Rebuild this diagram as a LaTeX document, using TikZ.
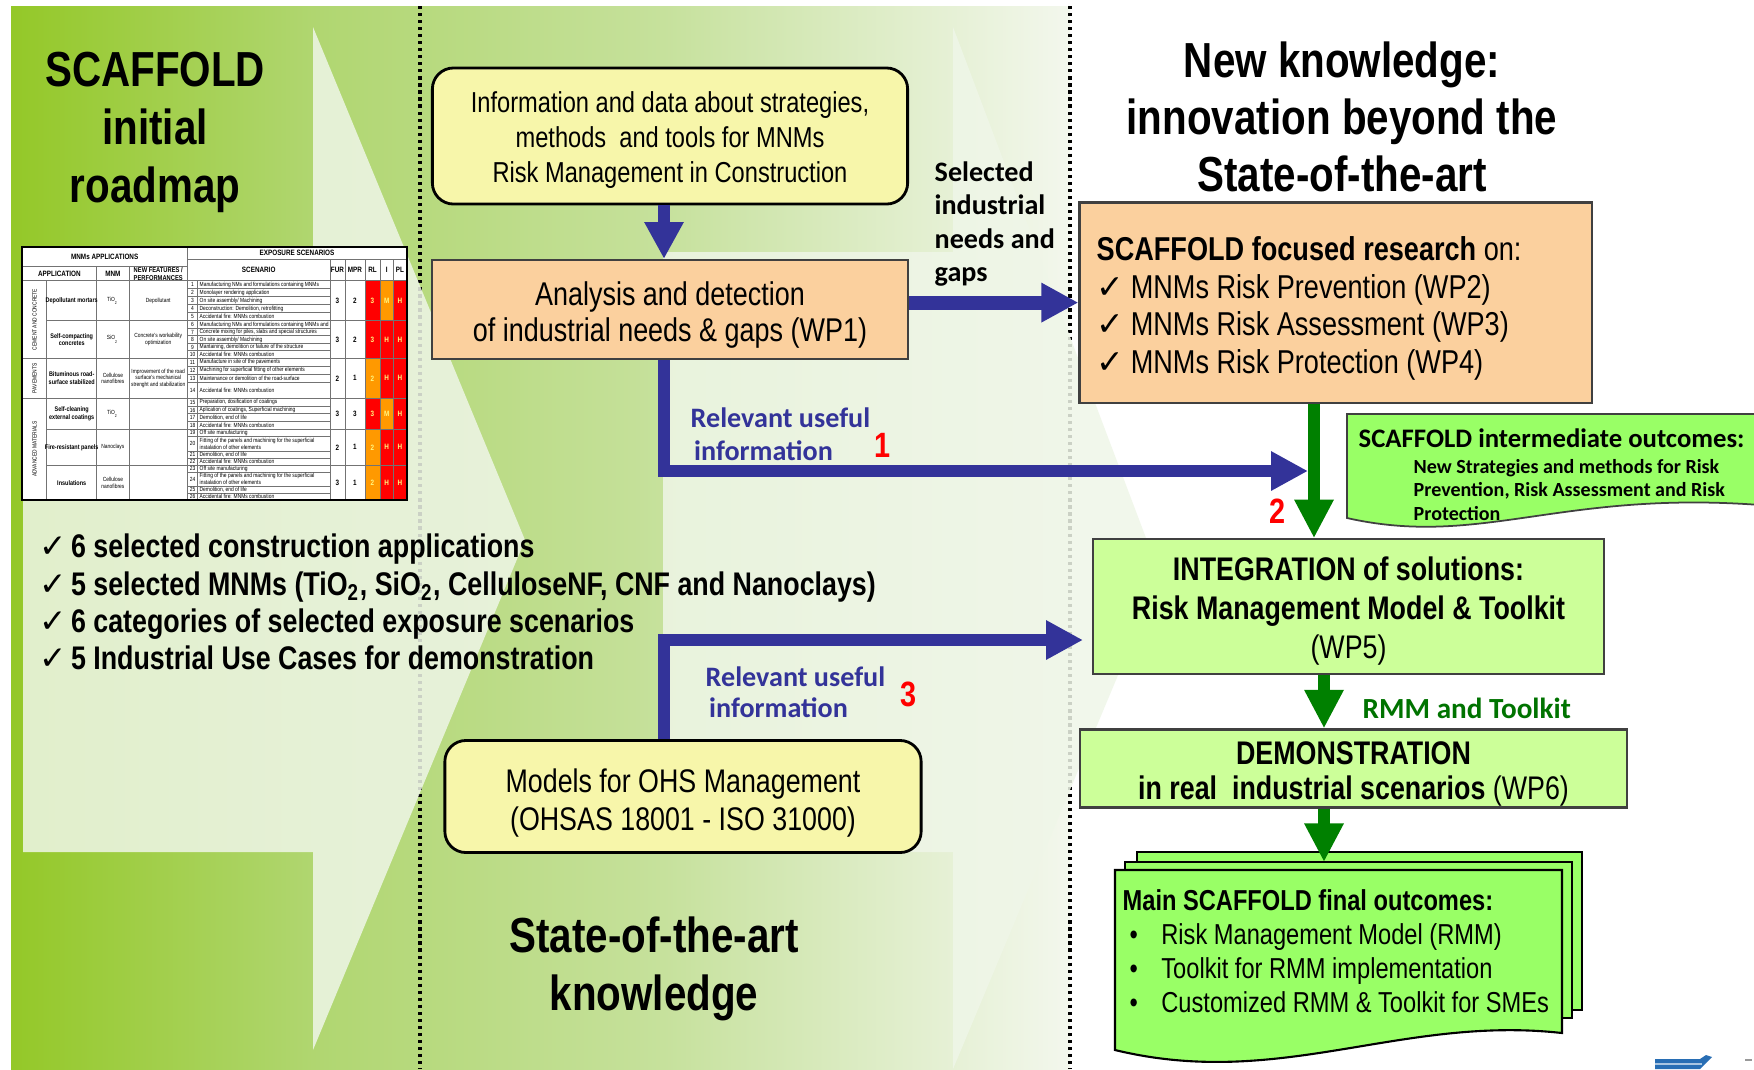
\documentclass[tikz,border=0pt]{standalone}
\usepackage{fontspec}
\setmainfont{Liberation Sans}[FakeStretch=0.82]
\newfontfamily\calib{Carlito}
\newfontfamily\symb{DejaVu Sans}
\usetikzlibrary{arrows.meta}

\definecolor{leftgreen}{RGB}{148,200,40}
\definecolor{midgreen}{RGB}{176,214,112}
\definecolor{palemid}{RGB}{198,225,156}
\definecolor{paleedge}{RGB}{243,247,237}
\definecolor{chevlight}{RGB}{239,246,232}
\definecolor{infoyellow}{RGB}{247,246,170}
\definecolor{wporange}{RGB}{251,208,158}
\definecolor{palegreen}{RGB}{204,255,153}
\definecolor{brightgreen}{RGB}{153,255,102}
\definecolor{arrowblue}{RGB}{51,51,153}
\definecolor{arrowgreen}{RGB}{0,128,0}
\definecolor{tabred}{RGB}{255,0,0}
\definecolor{taborange}{RGB}{255,153,0}
\definecolor{logoblue}{RGB}{40,110,180}

\newcommand{\fs}[2]{\fontsize{#1}{#2}\selectfont}
\newcommand{\okmark}[1][8.9pt]{\makebox[#1][l]{\symb ✓}}

\tikzstyle{headline} = [font=\bfseries\fs{14}{16.5}, align=center, inner sep=0pt]
\tikzstyle{roundbox} = [rectangle, rounded corners=6pt, draw=black, line width=0.8pt, fill=infoyellow]
\tikzstyle{wpbox} = [rectangle, draw=black!75, line width=0.6pt, fill=wporange]
\tikzstyle{outbox} = [rectangle, draw=black!75, line width=0.6pt, fill=palegreen]
\tikzstyle{boxtext} = [align=center, inner sep=0pt]
\tikzstyle{sheet} = [fill=brightgreen, draw=black, line width=0.6pt]
\tikzstyle{bluearrow} = [draw=arrowblue, line width=3.3pt, -{Triangle[length=10.5pt, width=10.5pt]}]
\tikzstyle{greenarrow} = [draw=arrowgreen, line width=3.6pt, -{Triangle[length=11pt, width=10.5pt]}]
\tikzstyle{note} = [font=\calib\bfseries\fs{8}{9.5}, align=left, inner sep=0pt, anchor=west]
\tikzstyle{rednum} = [font=\bfseries\fs{10}{10}, text=red, inner sep=0pt]
\tikzstyle{divider} = [line width=0.9pt, dash pattern=on 0.9pt off 1.1pt]
\tikzstyle{chevron} = [fill=chevlight, fill opacity=0.85]
\tikzstyle{tabline} = [draw=black!55, line width=0.2pt]
\tikzstyle{tabhead} = [font=\bfseries\fs{2.2}{2.5}, inner sep=0pt, align=center]
\tikzstyle{tabtxt} = [font=\fs{1.7}{1.9}, inner sep=0pt, align=center]
\tikzstyle{tabcell} = [font=\bfseries\fs{2.2}{2.4}, inner sep=0pt, text=yellow!50]

\begin{document}
\begin{tikzpicture}[x=0.01cm, y=-0.01cm]
    \useasboundingbox (0,0) rectangle (1754,1069);
    \fill [white] (0,0) rectangle (1754,1069);
    \fill [left color=leftgreen, right color=midgreen] (11,6) rectangle (312.5,1069);
    \fill [left color=midgreen, right color=palemid] (312,6) rectangle (663.5,1069);
    \fill [left color=palemid, right color=paleedge] (663,6) rectangle (1070,1069);
    \draw [divider] (420,6) -- (420,1069);
    \draw [divider] (1070,6) -- (1070,1069);
    \fill [chevron] (23,252) -- (313,252) -- (313,27) -- (525,540) -- (313,1050) -- (313,852) -- (23,852) -- cycle;
    \fill [chevron] (663,252) -- (953,252) -- (953,27) -- (1160,575) -- (953,1069) -- (953,852) -- (663,852) -- cycle;

    \node [headline] at (155,132) (roadmap) {SCAFFOLD\\initial\\roadmap};
    \node [headline, font=\bfseries\fs{14}{16.25}] at (1342,117) (newknow) {New knowledge:\\innovation beyond the\\State-of-the-art};
    \node [headline] at (654,968.6) (stateart) {State-of-the-art\\knowledge};

    \fill [white] (22,247) rectangle (407,500);
    \foreach \ya/\yb/\ca/\cb/\cc in {280.7/320.7/tabred/taborange/tabred, 320.7/358.3/tabred/tabred/tabred, 358.3/398.3/taborange/tabred/tabred, 398.3/429.3/tabred/taborange/tabred, 429.3/465.3/taborange/tabred/tabred, 465.3/500/taborange/tabred/tabred}{
        \fill [\ca] (365,\ya) rectangle (380,\yb);
        \fill [\cb] (380,\ya) rectangle (393.3,\yb);
        \fill [\cc] (393.3,\ya) rectangle (406.7,\yb);
    }
    \draw [tabline] (22,266.7) -- (187.3,266.7);
    \draw [tabline] (187.3,259) -- (406.7,259);
    \foreach \y in {280.7,358.3,398.3}
        \draw [tabline] (22,\y) -- (406.7,\y);
    \foreach \y in {320.7,429.3,465.3}
        \draw [tabline] (46.7,\y) -- (406.7,\y);
    \draw [tabline] (46.7,280.7) -- (46.7,500);
    \foreach \x in {96.7,129}
        \draw [tabline] (\x,266.7) -- (\x,500);
    \draw [tabline] (187.3,247.3) -- (187.3,500);
    \draw [tabline] (197.7,280.7) -- (197.7,500);
    \foreach \x in {330,345,365,380,393.3}
        \draw [tabline] (\x,259) -- (\x,500);

    \node [tabhead] at (104.7,257) (thapp) {MNMs APPLICATIONS};
    \node [tabhead] at (297,253.2) (thexp) {EXPOSURE SCENARIOS};
    \node [tabhead] at (59.4,273.7) (thcol1) {APPLICATION};
    \node [tabhead] at (112.9,273.7) (thcol2) {MNM};
    \node [tabhead, font=\bfseries\fs{2}{2.3}] at (158.2,273.7) (thcol3) {NEW FEATURES /\\PERFORMANCES};
    \node [tabhead] at (258.7,269.9) (thcol4) {SCENARIO};
    \node [tabhead] at (337.5,269.9) (thcol5) {FUR};
    \node [tabhead] at (355,269.9) (thcol6) {MPR};
    \node [tabhead] at (372.5,269.9) (thcol7) {RL};
    \node [tabhead] at (386.7,269.9) (thcol8) {I};
    \node [tabhead] at (400,269.9) (thcol9) {PL};
    \node [tabtxt, rotate=90] at (34.5,319.5) (grp1) {CEMENT AND CONCRETE};
    \node [tabtxt, rotate=90] at (34.5,378.3) (grp2) {PAVEMENTS};
    \node [tabtxt, rotate=90] at (34.5,449) (grp3) {ADVANCED MATERIALS};

    \foreach \ya/\yb/\app/\mnm/\fur/\mpr/\rl/\ii/\pl [count=\k] in {
        280.7/320.7/{Depollutant mortars}/{TiO\textsubscript{2}}/3/2/3/M/H,
        320.7/358.3/{Self-compacting\\concretes}/{SiO\textsubscript{2}}/3/2/3/H/H,
        358.3/398.3/{Bituminous road-\\surface stabilized}/{Cellulose\\nanofibres}/2/1/2/H/H,
        398.3/429.3/{Self-cleaning\\external coatings}/{TiO\textsubscript{2}}/3/3/3/M/H,
        429.3/465.3/{Fire-resistant panels}/{Nanoclays}/2/1/2/H/H,
        465.3/500/{Insulations}/{Cellulose\\nanofibres}/3/1/2/H/H}{
        \node [tabhead, font=\bfseries\fs{1.9}{2.2}] at (71.7,{(\ya+\yb)/2}) (app\k) {\app};
        \node [tabtxt] at (112.9,{(\ya+\yb)/2}) (mnm\k) {\mnm};
        \node [tabhead] at (337.5,{(\ya+\yb)/2}) (fur\k) {\fur};
        \node [tabhead] at (355,{(\ya+\yb)/2}) (mpr\k) {\mpr};
        \node [tabcell] at (372.5,{(\ya+\yb)/2}) (rl\k) {\rl};
        \node [tabcell] at (386.7,{(\ya+\yb)/2}) (ii\k) {\ii};
        \node [tabcell] at (400,{(\ya+\yb)/2}) (pl\k) {\pl};
    }
    \foreach \y/\feat [count=\k] in {300.7/{Depollutant}, 339.5/{Concrete's workability\\optimization}, 378.3/{Improvement of the road\\surface's mechanical\\strenght and stabilization}}
        \node [tabtxt] at (158.2,\y) (feat\k) {\feat};
    \foreach \n/\yt/\yb/\txt in {
        1/280.7/288.7/{Manufacturing NMs and formulations containing MNMs},
        2/288.7/296.7/{Monolayer rendering application},
        3/296.7/304.7/{On site assembly/ Machining},
        4/304.7/312.7/{Deconstruction: Demolition, retrofitting},
        5/312.7/320.7/{Accidental fire: MNMs combustion},
        6/320.7/328.2/{Manufacturing NMs and formulations containing MNMs and},
        7/328.2/335.7/{Concrete mixing for piles, slabs and special structures},
        8/335.7/343.3/{On site assembly/ Machining},
        9/343.3/350.8/{Mantaining, demolition or failure of the structure},
        10/350.8/358.3/{Accidental fire: MNMs combustion},
        11/358.3/366.3/{Manufacture in site of the pavements},
        12/366.3/374.3/{Machining for superficial fitting of other elements},
        13/374.3/382.3/{Maintenance or demolition of the road-surface},
        14/382.3/398.3/{Accidental fire: MNMs combustion},
        15/398.3/406.1/{Preparation, dosification of coatings},
        16/406.1/413.8/{Aplication of coatings, Superficial machining},
        17/413.8/421.6/{Demolition, end of life},
        18/421.6/429.3/{Accidental fire: MNMs combustion},
        19/429.3/436.5/{Off site manufacturing},
        20/436.5/450.9/{Fitting of the panels and machining for the superficial\\instalation of other elements},
        21/450.9/458.1/{Demolition, end of life},
        22/458.1/465.3/{Accidental fire: MNMs combustion},
        23/465.3/472.2/{Off site manufacturing},
        24/472.2/486.1/{Fitting of the panels and machining for the superficial\\instalation of other elements},
        25/486.1/493.1/{Demolition, end of life},
        26/493.1/500/{Accidental fire: MNMs combustion}}{
        \draw [tabline] (187.3,\yb) -- (330,\yb);
        \node [tabtxt] at (192.5,{(\yt+\yb)/2}) (sn\n) {\n};
        \node [tabtxt, anchor=west, align=left] at (199,{(\yt+\yb)/2}) (st\n) {\txt};
    }
    \draw [black, line width=0.6pt] (22,247.3) rectangle (406.7,500);

    \node [anchor=west, align=left, inner sep=0pt, font=\bfseries\fs{9.3}{10.6}] at (39,602) (facts) {\okmark 6 selected construction applications\\\okmark 5 selected MNMs (TiO\textsubscript{2}, SiO\textsubscript{2}, CelluloseNF, CNF and Nanoclays)\\\okmark 6 categories of selected exposure scenarios\\\okmark 5 Industrial Use Cases for demonstration};

    \node [roundbox, minimum width=4.75cm, minimum height=1.36cm] at (670,136) (info) {};
    \node [boxtext, font=\fs{8.2}{9.9}] at (670,140) (infotext) {Information and data about strategies,\\methods\ \ and tools for MNMs\\Risk Management in Construction};
    \node [wpbox, minimum width=4.75cm, minimum height=0.99cm] at (670,309.5) (analysis) {};
    \node [boxtext, font=\fs{9.35}{10.5}] at (670,315) (analysistext) {Analysis and detection\\of industrial needs \& gaps (WP1)};
    \node [roundbox, minimum width=4.76cm, minimum height=1.12cm] at (683,796.5) (models) {};
    \node [boxtext, font=\fs{9.3}{10.8}] at (683,802.7) (modelstext) {Models for OHS Management\\(OHSAS 18001 - ISO 31000)};
    \node [wpbox, minimum width=5.12cm, minimum height=2.0cm] at (1335.6,302.6) (research) {};
    \node [anchor=west, align=left, inner sep=0pt, font=\fs{9.4}{10.7}] at (1096,308.5) (focus) {\textbf{SCAFFOLD focused research} on:\\\okmark[9.7pt]MNMs Risk Prevention (WP2)\\\okmark[9.7pt]MNMs Risk Assessment (WP3)\\\okmark[9.7pt]MNMs Risk Protection (WP4)};
    \node [outbox, minimum width=5.11cm, minimum height=1.35cm] at (1348.5,606.8) (integration) {};
    \node [boxtext, font=\fs{9.3}{11}] at (1348.5,611) (integrationtext) {\textbf{INTEGRATION of solutions:}\\\textbf{Risk Management Model \& Toolkit}\\(WP5)};
    \node [outbox, minimum width=5.46cm, minimum height=0.78cm] at (1353.5,768.5) (demo) {};
    \node [boxtext, font=\fs{9.3}{10.2}] at (1353.5,774) (demotext) {\textbf{DEMONSTRATION}\\\textbf{in real\ \ industrial scenarios} (WP6)};

    \filldraw [sheet, draw=black!75, line width=0.5pt] (1347,414) -- (1760,414) -- (1760,505) .. controls (1560,490) and (1480,548) .. (1347,518) -- cycle;
    \node [note, font=\calib\bfseries\fs{7.6}{8}] at (1358,438) (midtitle) {SCAFFOLD intermediate outcomes:};
    \node [note, font=\calib\bfseries\fs{5.7}{6.7}] at (1413,489.7) (midtext) {New Strategies and methods for Risk\\Prevention, Risk Assessment and Risk\\Protection};

    \filldraw [sheet] (1137,852) rectangle (1582,1010);
    \filldraw [sheet] (1125,862) rectangle (1572,1018);
    \filldraw [sheet] (1115,870) -- (1562,870) -- (1562,1033) .. controls (1400,1015) and (1280,1090) .. (1115,1050) -- cycle;
    \node [anchor=west, align=left, inner sep=0pt, font=\fs{8.2}{9.7}] at (1122,951) (final) {\textbf{Main SCAFFOLD final outcomes:}\\\makebox[11pt][l]{\hspace{2pt}•}Risk Management Model (RMM)\\\makebox[11pt][l]{\hspace{2pt}•}Toolkit for RMM implementation\\\makebox[11pt][l]{\hspace{2pt}•}Customized RMM \& Toolkit for SMEs};

    \coordinate (ax) at (664,0);
    \coordinate (gx1) at (1314,0);
    \coordinate (gx2) at (1324,0);
    \coordinate (tip1) at (1308,471);
    \coordinate (tip3) at (1083,640);
    \coordinate (finaltop) at (1324,862);

    \draw [bluearrow] (info.south -| ax) -- (analysis.north -| ax);
    \draw [bluearrow, line width=4pt] (research.west -| analysis.east) -- (research.west);
    \draw [bluearrow] (analysis.south -| ax) |- (tip1);
    \draw [bluearrow] (models.north -| ax) |- (tip3);
    \draw [greenarrow] (research.south -| gx1) -- (integration.north -| gx1);
    \draw [greenarrow] (integration.south -| gx2) -- (demo.north -| gx2);
    \draw [greenarrow] (demo.south -| gx2) -- (finaltop);

    \node [note] at (934,224) (selected) {Selected\\industrial\\needs and\\gaps};
    \node [note, text=arrowblue] at (690,434) (relevant1) {Relevant useful\\\hspace{1pt}information};
    \node [note, text=arrowblue, font=\calib\bfseries\fs{8}{8.9}] at (705,692.5) (relevant3) {Relevant useful\\\hspace{1pt}information};
    \node [note, text=arrowgreen!90!black, font=\calib\bfseries\fs{8.3}{9}] at (1362,708) (rmm) {RMM and Toolkit};
    \node [rednum] at (883,445) (num1) {1};
    \node [rednum] at (1278,511) (num2) {2};
    \node [rednum] at (909,694) (num3) {3};

    \fill [logoblue] (1655,1059) -- (1700,1059) -- (1706,1055) -- (1712,1057) -- (1700,1069) -- (1655,1069) -- cycle;
    \draw [logoblue!40!white, line width=0.5pt] (1655,1064) -- (1702,1064);
    \draw [black!40, line width=0.5pt] (1745,1060) -- (1752,1060);
\end{tikzpicture}
\end{document}
